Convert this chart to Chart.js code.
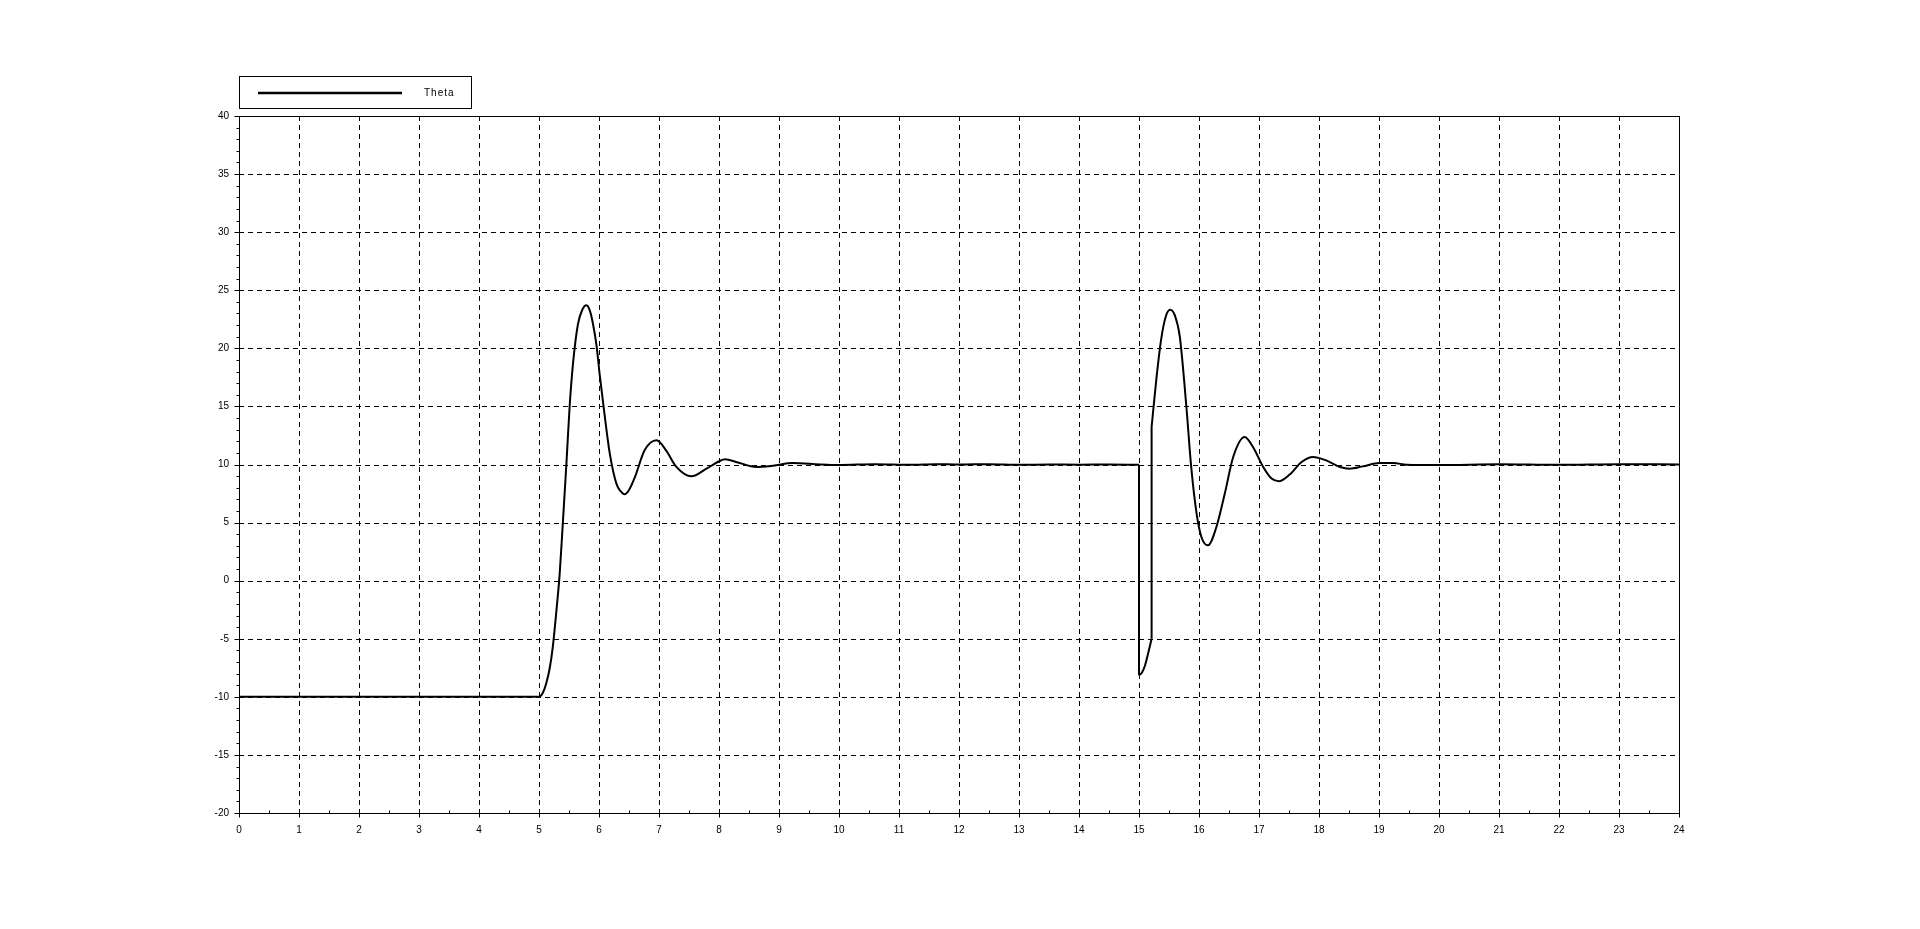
<!DOCTYPE html>
<html>
<head>
<meta charset="utf-8">
<script src="https://cdn.jsdelivr.net/npm/chart.js@4/dist/chart.umd.min.js"></script>
<style>
html,body{margin:0;padding:0;background:#fff;}
#wrap{width:1920px;height:929px;position:relative;}
</style>
</head>
<body>
<div id="wrap"><canvas id="c"></canvas></div>
<script>
const seriesLabel = 'Theta';
// repeated time values mark vertical jumps in the signal
const time = [0, 5.0, 5.06, 5.12, 5.18, 5.23, 5.29, 5.345, 5.40, 5.457, 5.51, 5.567, 5.65, 5.72, 5.79, 5.85, 5.9, 5.96, 6.01, 6.09, 6.18, 6.29, 6.36, 6.43, 6.5, 6.6, 6.76, 6.96, 7.12, 7.29, 7.54, 7.79, 8.01, 8.1, 8.3, 8.62, 8.9, 9.23, 9.68, 10.0, 10.6, 11.2, 11.6, 12.0, 12.5, 13.0, 13.5, 14.0, 14.5, 15.0, 15.0, 15.05, 15.1, 15.16, 15.21, 15.21, 15.29, 15.37, 15.45, 15.52, 15.6, 15.68, 15.79, 15.87, 15.96, 16.04, 16.15, 16.29, 16.43, 16.57, 16.76, 16.9, 17.07, 17.21, 17.33, 17.51, 17.71, 17.9, 18.12, 18.35, 18.51, 18.73, 19.01, 19.24, 19.46, 20, 21, 22, 23, 24];
const theta = [-10, -10, -9.7, -8.86, -7.5, -5.7, -2.6, 0.6, 5.2, 10.08, 14.95, 18.7, 22.1, 23.3, 23.7, 23.2, 22.1, 20.2, 17.8, 14.4, 10.94, 8.35, 7.7, 7.43, 7.8, 8.93, 11.22, 12.08, 11.2, 9.79, 8.98, 9.64, 10.3, 10.45, 10.2, 9.79, 9.9, 10.13, 10.0, 9.95, 10.03, 9.97, 10.03, 10.0, 10.03, 9.97, 10.0, 9.98, 10.0, 9.98, -8.15, -7.9, -7.3, -6.1, -5.0, 13.23, 17.4, 20.8, 22.8, 23.33, 22.8, 21.0, 14.95, 9.79, 5.77, 3.76, 3.04, 4.62, 7.5, 10.65, 12.37, 11.5, 9.79, 8.79, 8.56, 9.13, 10.22, 10.65, 10.35, 9.79, 9.64, 9.84, 10.13, 10.13, 9.98, 9.95, 10.02, 9.97, 10.03, 10.0];
const xTicks = [0,1,2,3,4,5,6,7,8,9,10,11,12,13,14,15,16,17,18,19,20,21,22,23,24];
const yTicks = [-20,-15,-10,-5,0,5,10,15,20,25,30,35,40];
const xMinorStep = 0.5;
const yMinorStep = 1;

const FONT = 'Liberation Sans, Arial, sans-serif';

// build smooth pieces separated by gaps, and vertical connector lines at jumps
const curve = [];
const jumps = [];
time.forEach((t, i) => {
  if (i > 0 && t === time[i-1]) {
    curve.push({x: t, y: null});
    jumps.push({x: t, y: theta[i-1]}, {x: t, y: theta[i]}, {x: t, y: null});
  }
  curve.push({x: t, y: theta[i]});
});

const framePlugin = {
  id: 'frame',
  beforeDatasetsDraw(chart) {
    const {ctx, chartArea: a, scales: {x, y}} = chart;
    ctx.save();
    ctx.strokeStyle = '#000';
    ctx.lineWidth = 1;
    ctx.setLineDash([5, 4]);
    xTicks.forEach(v => {
      if (v === xTicks[0] || v === xTicks[xTicks.length-1]) return;
      const px = Math.round(x.getPixelForValue(v)) + 0.5;
      ctx.beginPath(); ctx.moveTo(px, a.top); ctx.lineTo(px, a.bottom); ctx.stroke();
    });
    yTicks.forEach(v => {
      if (v === yTicks[0] || v === yTicks[yTicks.length-1]) return;
      const py = Math.round(y.getPixelForValue(v)) + 0.5;
      ctx.beginPath(); ctx.moveTo(a.left, py); ctx.lineTo(a.right, py); ctx.stroke();
    });
    ctx.restore();
  },
  afterDraw(chart) {
    const {ctx, chartArea: a, scales: {x, y}} = chart;
    ctx.save();
    ctx.strokeStyle = '#000';
    ctx.lineWidth = 1;
    ctx.setLineDash([]);
    const L = Math.round(a.left) + 0.5, R = Math.round(a.right) + 0.5;
    const T = Math.round(a.top) + 0.5, B = Math.round(a.bottom) + 0.5;
    ctx.strokeRect(L, T, R - L, B - T);
    for (let v = yTicks[0]; v <= yTicks[yTicks.length-1] + 1e-9; v += yMinorStep) {
      const py = Math.round(y.getPixelForValue(v)) + 0.5;
      const major = yTicks.includes(Math.round(v));
      ctx.beginPath(); ctx.moveTo(L - (major ? 5 : 3), py); ctx.lineTo(L, py); ctx.stroke();
    }
    for (let v = xTicks[0]; v <= xTicks[xTicks.length-1] + 1e-9; v += xMinorStep) {
      const px = Math.round(x.getPixelForValue(v)) + 0.5;
      const major = Math.abs(v - Math.round(v)) < 1e-9;
      ctx.beginPath(); ctx.moveTo(px, B - 3); ctx.lineTo(px, major ? B + 4 : B); ctx.stroke();
    }
    // legend
    ctx.strokeRect(239.5, 76.5, 232, 32);
    ctx.lineWidth = 2.5;
    ctx.beginPath(); ctx.moveTo(258, 93); ctx.lineTo(402, 93); ctx.stroke();
    ctx.fillStyle = '#000';
    ctx.font = '10px ' + FONT;
    ctx.textBaseline = 'middle';
    ctx.textAlign = 'left';
    const label = chart.data.datasets[0].label;
    let lx = 424;
    for (const ch of label) { ctx.fillText(ch, lx, 93); lx += ctx.measureText(ch).width + 1; }
    ctx.restore();
  }
};

new Chart(document.getElementById('c'), {
  type: 'line',
  data: {
    datasets: [{
      label: seriesLabel,
      data: curve,
      borderColor: '#000',
      borderWidth: 2,
      pointRadius: 0,
      cubicInterpolationMode: 'monotone',
      spanGaps: false,
      fill: false
    }, {
      label: seriesLabel + ' jumps',
      data: jumps,
      borderColor: '#000',
      borderWidth: 2,
      pointRadius: 0,
      tension: 0,
      spanGaps: false,
      fill: false
    }]
  },
  options: {
    responsive: true,
    maintainAspectRatio: false,
    animation: false,
    layout: {padding: {left: 0, right: 241, top: 116, bottom: 0}},
    plugins: {legend: {display: false}, tooltip: {enabled: false}},
    scales: {
      x: {
        type: 'linear', min: 0, max: 24,
        afterBuildTicks(s) { s.ticks = xTicks.map(v => ({value: v})); },
        afterFit(s) { s.height = 116; },
        grid: {display: false, drawTicks: false},
        border: {display: false},
        ticks: {color: '#000', font: {family: FONT, size: 10}, padding: 11, maxRotation: 0, autoSkip: false}
      },
      y: {
        type: 'linear', min: -20, max: 40,
        afterBuildTicks(s) { s.ticks = yTicks.map(v => ({value: v})); },
        afterFit(s) { s.width = 239; },
        grid: {display: false, drawTicks: false},
        border: {display: false},
        ticks: {color: '#000', font: {family: FONT, size: 10}, padding: 10, autoSkip: false}
      }
    }
  },
  plugins: [framePlugin]
});
</script>
</body>
</html>
